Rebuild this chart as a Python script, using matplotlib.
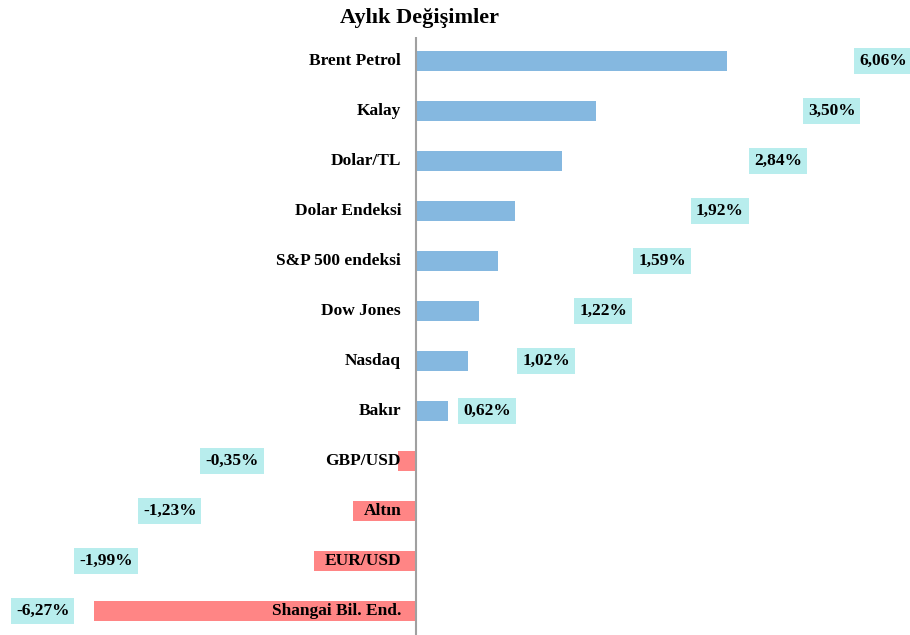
import matplotlib
matplotlib.use("Agg")
import matplotlib.pyplot as plt

# Veri
categories = ["Brent Petrol", "Kalay", "Dolar/TL", "Dolar Endeksi", "S&P 500 endeksi",
              "Dow Jones", "Nasdaq", "Bakır", "GBP/USD", "Altın", "EUR/USD",
              "Shangai Bil. End."]
changes = [6.06, 3.50, 2.84, 1.92, 1.59, 1.22, 1.02, 0.62, -0.35, -1.23, -1.99, -6.27]
value_labels = ["6,06%", "3,50%", "2,84%", "1,92%", "1,59%", "1,22%", "1,02%", "0,62%",
                "-0,35%", "-1,23%", "-1,99%", "-6,27%"]

# etiket konumlari (veri birimi)
label_x = [9.09, 8.09, 7.04, 5.91, 4.79, 3.64, 2.53, 1.38, -3.58, -4.79, -6.03, -7.26]

POS = "#85b8e0"
NEG = "#ff8585"
BOX = "#b8eded"
FONT = "Liberation Serif"

fig = plt.figure(figsize=(9.1, 6.35), dpi=100)
ax = fig.add_axes([0, 0, 1, 1 - 37 / 635])

y = list(range(len(categories)))
colors = [POS if v >= 0 else NEG for v in changes]
ax.barh(y, changes, height=0.4, color=colors, zorder=2)
ax.axvline(0, color="#a0a0a0", lw=1.5, zorder=3)

for i, (cat, lx, lab) in enumerate(zip(categories, label_x, value_labels)):
    ax.text(-0.29, i, cat, ha="right", va="center", fontsize=12.5,
            fontweight="bold", family=FONT, zorder=4)
    ax.text(lx, i, lab, ha="center", va="center", fontsize=12.5,
            fontweight="bold", family=FONT, zorder=4,
            bbox=dict(boxstyle="square,pad=0.28", fc=BOX, ec="none"))

ax.set_xlim(-416 / 51.4, (910 - 416) / 51.4)
ax.set_ylim(11.48, -0.48)
ax.axis("off")

fig.text(420 / 910, 1 - 18 / 635, "Aylık Değişimler", ha="center", va="center",
         fontsize=16, fontweight="bold", family=FONT)

fig.savefig("out.png", dpi=100)
